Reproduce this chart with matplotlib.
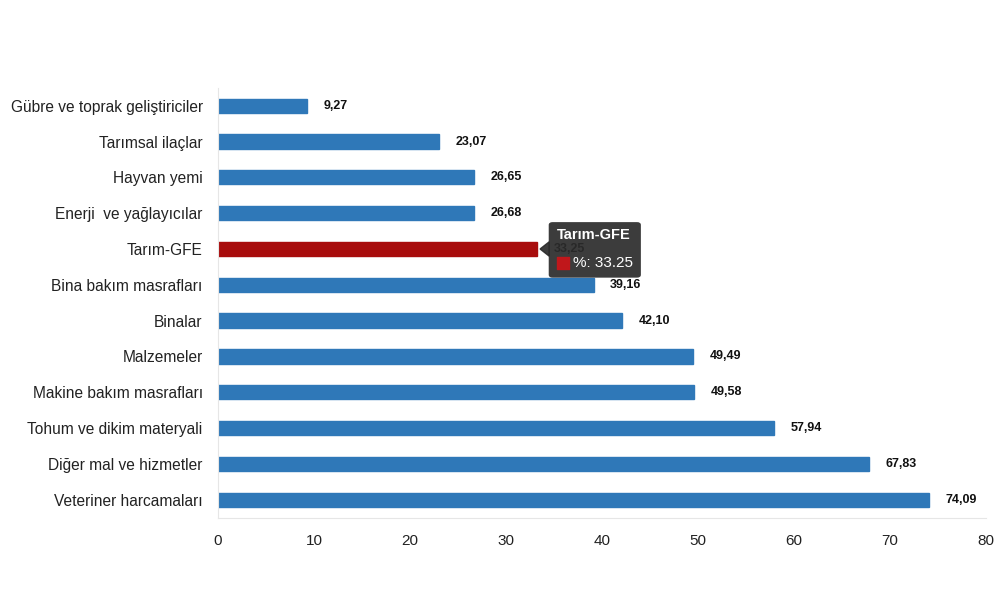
import matplotlib.pyplot as plt
from matplotlib.patches import FancyBboxPatch

kategoriler = ['Gübre ve toprak geliştiriciler', 'Tarımsal ilaçlar', 'Hayvan yemi',
               'Enerji  ve yağlayıcılar', 'Tarım-GFE', 'Bina bakım masrafları', 'Binalar',
               'Malzemeler', 'Makine bakım masrafları', 'Tohum ve dikim materyali',
               'Diğer mal ve hizmetler', 'Veteriner harcamaları']
degerler = [9.27, 23.07, 26.65, 26.68, 33.25, 39.16, 42.10, 49.49, 49.58, 57.94, 67.83, 74.09]
vurgu = 'Tarım-GFE'

plt.rcParams['font.family'] = ['Liberation Sans', 'DejaVu Sans']

mavi = '#2f78b8'
kirmizi = '#a80c0c'
renkler = [kirmizi if k == vurgu else mavi for k in kategoriler]

fig = plt.figure(figsize=(10, 5.93), dpi=100)
ax = fig.add_axes([0.218, 0.127, 0.768, 0.725])

y = list(range(len(kategoriler)))
ax.barh(y, degerler, height=0.4, color=renkler, edgecolor=renkler, zorder=2)
ax.set_ylim(len(kategoriler) - 0.5, -0.5)
ax.set_xlim(0, 80)
ax.set_xticks(range(0, 81, 10))
ax.set_yticks(y)
ax.set_yticklabels(kategoriler, fontsize=11.2, color='#222222')
ax.tick_params(axis='x', labelsize=11, colors='#222222', length=0, pad=12)
ax.tick_params(axis='y', length=0, pad=11)

for s in ['top', 'right']:
    ax.spines[s].set_visible(False)
ax.spines['left'].set_color('#e6e6e6')
ax.spines['bottom'].set_color('#e6e6e6')

for i, v in enumerate(degerler):
    ax.text(v + 1.7, i, f'{v:.2f}'.replace('.', ','), va='center', ha='left',
            fontsize=9, fontweight='bold', color='#111111')

# tooltip
i = kategoriler.index(vurgu)
v = degerler[i]
kutu = FancyBboxPatch((v + 1.2, i - 0.75), 9.6, 1.55, boxstyle='round,pad=0,rounding_size=0.4',
                      facecolor='#2b2b2b', edgecolor='none', alpha=0.92, zorder=5,
                      mutation_aspect=1 / 5)
ax.add_patch(kutu)
ax.fill([v + 0.3, v + 1.25, v + 1.25], [i, i - 0.2, i + 0.2], color='#2b2b2b', alpha=0.92, zorder=5)
ax.text(v + 2.0, i - 0.38, vurgu, color='white', fontsize=10.5, fontweight='bold',
        va='center', ha='left', zorder=6)
ax.scatter([v + 2.7], [i + 0.4], marker='s', s=70, color='#c0171b', zorder=6)
ax.text(v + 3.7, i + 0.4, f'%: {v:.2f}', color='white', fontsize=11,
        va='center', ha='left', zorder=6)

fig.savefig('out.png', dpi=100)
